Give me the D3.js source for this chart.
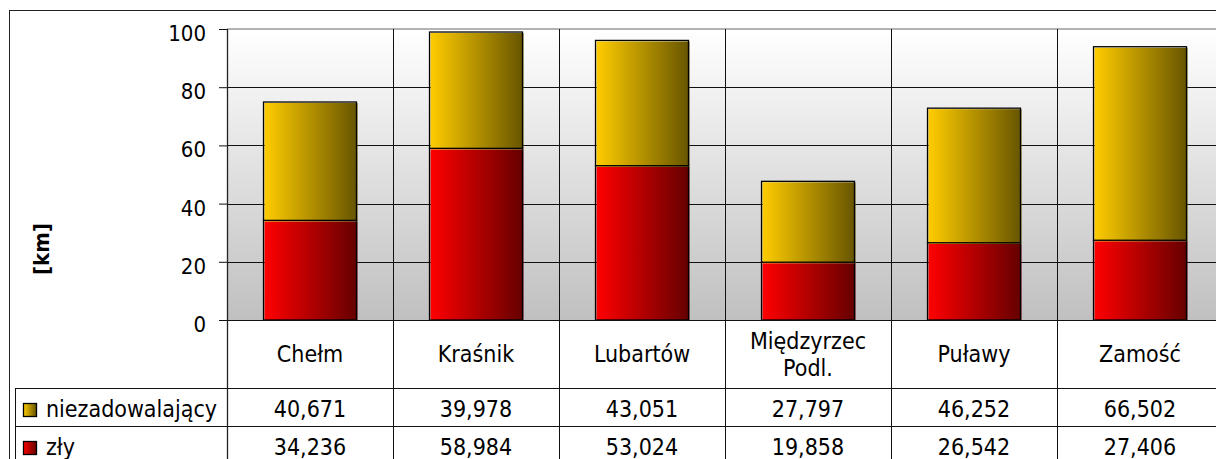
<!DOCTYPE html>
<html>
<head>
<meta charset="utf-8">
<script src="https://cdn.jsdelivr.net/npm/d3@7"></script>
<style>
  body { margin: 0; background: #fff; }
  svg text { font-family: "DejaVu Sans Condensed", "DejaVu Sans", sans-serif; font-stretch: condensed; fill: #000; }
</style>
</head>
<body>
<svg id="chart" width="1216" height="459"></svg>
<script>
// data
const categories = ["Chełm", "Kraśnik", "Lubartów", "Międzyrzec Podl.", "Puławy", "Zamość"];
const seriesNames = ["niezadowalający", "zły"];
const niezadowalajacy = [40.671, 39.978, 43.051, 27.797, 46.252, 66.502];
const zly = [34.236, 58.984, 53.024, 19.858, 26.542, 27.406];
const yTicks = [0, 20, 40, 60, 80, 100];

const rows = categories.map((c, i) => ({cat: c, "zły": zly[i], "niezadowalający": niezadowalajacy[i]}));

const margin = {left: 227, top: 29, right: 1223, bottom: 320};
const svg = d3.select("#chart");
const defs = svg.append("defs");

// gradients
const bg = defs.append("linearGradient").attr("id", "bg").attr("x1", 0).attr("y1", 0).attr("x2", 0).attr("y2", 1);
bg.append("stop").attr("offset", "0%").attr("stop-color", "#ffffff");
bg.append("stop").attr("offset", "100%").attr("stop-color", "#c0c0c0");

const colors = {
    "niezadowalający": ["#ffcc00", "#665400"],
    "zły": ["#ff0000", "#640000"]
};
seriesNames.forEach((s, i) => {
    let g = defs.append("linearGradient").attr("id", "grad" + i).attr("x1", 0).attr("y1", 0).attr("x2", 1).attr("y2", 0);
    g.append("stop").attr("offset", "0%").attr("stop-color", colors[s][0]);
    g.append("stop").attr("offset", "100%").attr("stop-color", colors[s][1]);
});

// scales
const xCat = d3.scaleBand().domain(categories).range([margin.left, margin.right]).padding(0);
const xBar = d3.scaleBand().domain(categories).range([margin.left, margin.right]).paddingInner(0.44).paddingOuter(0.22);
const y = d3.scaleLinear().domain([0, 100]).range([margin.bottom, margin.top]);

// outer chart border
svg.append("rect").attr("x", 9.5).attr("y", 10.5).attr("width", 1300).attr("height", 600)
    .attr("fill", "none").attr("stroke", "#222").attr("stroke-width", 1);

// plot background
svg.append("rect").attr("x", margin.left).attr("y", margin.top)
    .attr("width", margin.right - margin.left).attr("height", margin.bottom - margin.top)
    .attr("fill", "url(#bg)");

// horizontal gridlines
svg.append("g").selectAll("line").data(yTicks.filter(d => d > 0 && d < 100)).join("line")
    .attr("x1", margin.left).attr("x2", margin.right)
    .attr("y1", d => Math.round(y(d)) + 0.5).attr("y2", d => Math.round(y(d)) + 0.5)
    .attr("stroke", "#111").attr("stroke-width", 1);
svg.append("line").attr("x1", margin.left).attr("x2", margin.right)
    .attr("y1", y(100)).attr("y2", y(100)).attr("stroke", "#9a9a9a").attr("stroke-width", 1.5);

// vertical category lines (plot + data table)
svg.append("g").selectAll("line").data(categories).join("line")
    .attr("x1", d => Math.round(xCat(d)) + 0.5).attr("x2", d => Math.round(xCat(d)) + 0.5)
    .attr("y1", margin.top).attr("y2", 459)
    .attr("stroke", "#111").attr("stroke-width", 1);

// stacked bars
const stack = d3.stack().keys(["zły", "niezadowalający"]);
const layers = stack(rows);
const barG = svg.append("g");
layers.forEach(layer => {
    let gi = seriesNames.indexOf(layer.key);
    let g = barG.append("g");
    g.selectAll("rect.fill").data(layer).join("rect").attr("class", "fill")
        .attr("x", d => xBar(d.data.cat) + 1)
        .attr("y", d => y(d[1]) + 1)
        .attr("width", xBar.bandwidth())
        .attr("height", d => y(d[0]) - y(d[1]))
        .attr("fill", `url(#grad${gi})`);
    g.selectAll("rect.edge").data(layer).join("rect").attr("class", "edge")
        .attr("x", d => xBar(d.data.cat))
        .attr("y", d => y(d[1]))
        .attr("width", xBar.bandwidth())
        .attr("height", d => y(d[0]) - y(d[1]))
        .attr("fill", "none").attr("stroke", "#000").attr("stroke-width", 1.3);
});

// x axis line
svg.append("line").attr("x1", margin.left).attr("x2", margin.right)
    .attr("y1", margin.bottom + 0.5).attr("y2", margin.bottom + 0.5).attr("stroke", "#111");

// y axis
const yAxis = svg.append("g").attr("transform", `translate(${margin.left},0)`)
    .call(d3.axisLeft(y).tickValues(yTicks).tickSize(8).tickPadding(13));
yAxis.select(".domain").remove();
yAxis.selectAll(".tick line").attr("stroke", "#111");
yAxis.selectAll(".tick text").attr("font-size", 22).attr("dy", "0.52em").style("font-family", null);
svg.append("line").attr("x1", margin.left + 0.5).attr("x2", margin.left + 0.5)
    .attr("y1", margin.top).attr("y2", 459).attr("stroke", "#222").attr("stroke-width", 1.3);

// y title
svg.append("text").attr("transform", "translate(49,249) rotate(-90)")
    .attr("text-anchor", "middle").attr("font-size", 22).attr("font-weight", "bold").text("[km]");

// category labels
const labG = svg.append("g");
categories.forEach(c => {
    let parts = c.split(" ");
    let t = labG.append("text").attr("text-anchor", "middle").attr("font-size", 23)
        .attr("x", xCat(c) + xCat.bandwidth() / 2);
    let y0 = 362 - (parts.length - 1) * 13;
    parts.forEach((p, i) => t.append("tspan").attr("x", xCat(c) + xCat.bandwidth() / 2).attr("y", y0 + i * 27).text(p));
});

// data table
const rowTop = [388, 426];
const fmt = v => d3.format(".3f")(v).replace(".", ",");
const seriesValues = [niezadowalajacy, zly];
svg.append("line").attr("x1", 15).attr("x2", margin.right).attr("y1", 388.5).attr("y2", 388.5).attr("stroke", "#111");
svg.append("line").attr("x1", 15).attr("x2", margin.right).attr("y1", 426.5).attr("y2", 426.5).attr("stroke", "#111");
svg.append("line").attr("x1", 15.5).attr("x2", 15.5).attr("y1", 388).attr("y2", 459).attr("stroke", "#111");

seriesNames.forEach((s, si) => {
    let top = rowTop[si];
    svg.append("rect").attr("x", 23.5).attr("y", top + 15.5).attr("width", 13).attr("height", 13)
        .attr("fill", `url(#grad${si})`).attr("stroke", "#000").attr("stroke-width", 1.3);
    svg.append("text").attr("x", 46).attr("y", top + 29).attr("font-size", 23).text(s);
    svg.append("g").selectAll("text").data(categories).join("text")
        .attr("x", d => xCat(d) + xCat.bandwidth() / 2).attr("y", top + 29)
        .attr("text-anchor", "middle").attr("font-size", 23)
        .text((d, i) => fmt(seriesValues[si][i]));
});
</script>
</body>
</html>
